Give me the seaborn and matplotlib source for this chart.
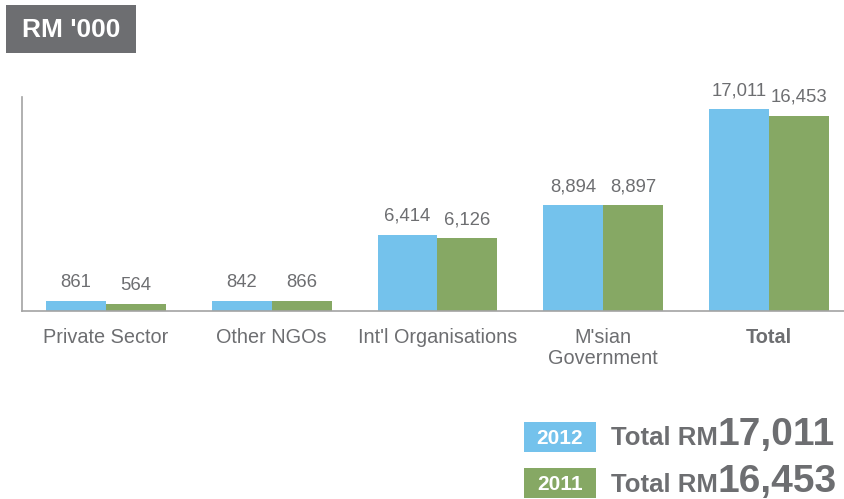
import matplotlib
matplotlib.use("Agg")
import matplotlib.pyplot as plt
from matplotlib.patches import Rectangle
import seaborn as sns
import pandas as pd

categories = ["Private Sector", "Other NGOs", "Int'l Organisations", "M'sian\nGovernment", "Total"]
values_2012 = [861, 842, 6414, 8894, 17011]
values_2011 = [564, 866, 6126, 8897, 16453]
years = ["2012", "2011"]
totals = ["17,011", "16,453"]

BLUE = "#74C2EC"
GREEN = "#86A864"
GRAY = "#6D6E71"
SPINE = "#A3A3A3"

sns.set_theme(style="white")
plt.rcParams['font.family'] = ['Liberation Sans', 'DejaVu Sans']

df = pd.DataFrame({
    "category": categories * 2,
    "value": values_2012 + values_2011,
    "year": [years[0]] * len(categories) + [years[1]] * len(categories),
})

W, H = 844, 499
fig = plt.figure(figsize=(W / 100, H / 100), dpi=100)
ax = fig.add_axes([22 / W, (H - 311) / H, (W - 22) / W, (311 - 97) / H])

sns.barplot(data=df, x="category", y="value", hue="year", order=categories,
            hue_order=years, palette=[BLUE, GREEN], width=0.723, ax=ax,
            legend=False, saturation=1, errorbar=None, linewidth=0)

ax.set_xlim(-0.506, 4.452)
ax.set_ylim(0, 18020)
ax.set_xlabel("")
ax.set_ylabel("")
ax.set_yticks([])
ax.tick_params(axis="x", length=0, pad=12, labelsize=14.3, labelcolor=GRAY)
for lbl in ax.get_xticklabels():
    lbl.set_linespacing(1.15)
    if lbl.get_text() == "Total":
        lbl.set_fontweight("bold")
for s in ["top", "right"]:
    ax.spines[s].set_visible(False)
for s in ["left", "bottom"]:
    ax.spines[s].set_color(SPINE)
    ax.spines[s].set_linewidth(1.2)

for container in ax.containers:
    for bar in container:
        h = bar.get_height()
        ax.annotate(f"{int(round(h)):,}", (bar.get_x() + bar.get_width() / 2, h),
                    xytext=(0, 10), textcoords="offset points", ha="center",
                    va="baseline", fontsize=13.3, color=GRAY)

def px(x, y):
    return x / W, 1 - y / H

# Title box
fig.patches.append(Rectangle(px(6, 53), 130 / W, 48 / H, transform=fig.transFigure,
                             facecolor=GRAY, edgecolor="none"))
fig.text(*px(71, 30), "RM '000", ha="center", va="center", fontsize=19,
         fontweight="bold", color="white")

# Legend / totals
for i, (yr, col, tot) in enumerate(zip(years, [BLUE, GREEN], totals)):
    top = 422 + i * 46
    fig.patches.append(Rectangle(px(524, top + 30), 72 / W, 30 / H,
                                 transform=fig.transFigure, facecolor=col,
                                 edgecolor="none"))
    fig.text(*px(560, top + 16), yr, ha="center", va="center", fontsize=15,
             fontweight="bold", color="white")
    base = 445 + i * 47
    fig.text(*px(718, base), "Total RM", ha="right", va="baseline", fontsize=18.5,
             fontweight="bold", color=GRAY)
    fig.text(*px(718, base), tot, ha="left", va="baseline", fontsize=28,
             fontweight="bold", color=GRAY)

fig.savefig("out.png", dpi=100)
